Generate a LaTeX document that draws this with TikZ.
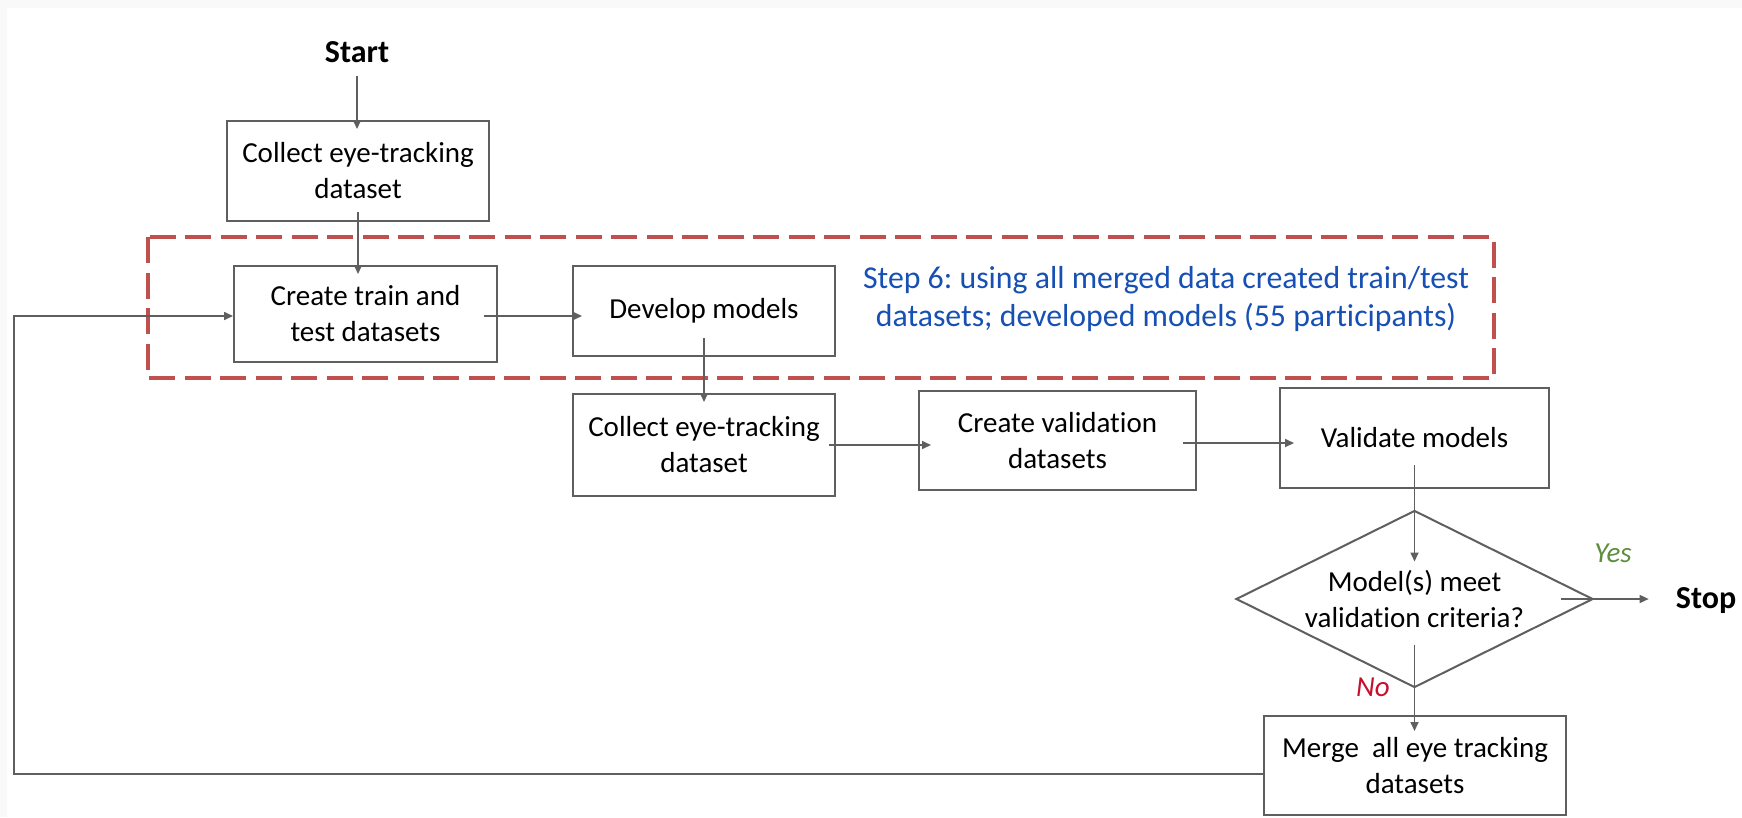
\documentclass[tikz,border=0pt]{standalone}
\usepackage{fontspec}
\setmainfont{Carlito}[Ligatures={NoCommon}]
\usetikzlibrary{shapes.geometric,arrows.meta}
\frenchspacing
\definecolor{edge}{HTML}{5F5F5F}
\definecolor{frame}{HTML}{C0504D}
\definecolor{note}{HTML}{1650B4}
\definecolor{yescol}{HTML}{5E8E3E}
\definecolor{nocol}{HTML}{C8102E}
\definecolor{paper}{HTML}{F9F9F9}
\tikzset{
  txt/.style={font=\fontsize{29}{36}\selectfont, align=center},
  proc/.style={txt, draw=edge, line width=2pt, inner sep=0pt},
  term/.style={font=\fontsize{32}{38}\selectfont\bfseries, inner sep=0pt},
  decision/.style={txt, diamond, aspect=2, draw=edge, line width=2pt, inner sep=0pt,
    minimum width=357, minimum height=177},
  arr/.style={draw=edge, line width=1.6pt, -{Triangle[length=9pt,width=8pt]}},
  stepframe/.style={draw=frame, line width=3.5pt, dash pattern=on 26pt off 9.5pt},
  answer/.style={font=\fontsize{29}{34}\selectfont\itshape, inner sep=0pt},
}
\begin{document}
\begin{tikzpicture}[x=1pt, y=-1pt]
  % page background with a light strip along the top and left edges
  \fill[paper] (0,0) rectangle (1742,817);
  \fill[white] (7,8) rectangle (1742,817);
  \useasboundingbox (0,0) rectangle (1742,817);

  % step 6 highlight frame
  \draw[stepframe] (148,237) rectangle (1494,378);

  % nodes
  \node[term] (start) at (357,52) {Start};
  \node[proc, minimum width=262, minimum height=100] (collectA) at (358,171)
    {Collect eye-tracking\\dataset};
  \node[proc, minimum width=263, minimum height=96] (train) at (365.5,314)
    {Create train and\\test datasets};
  \node[proc, minimum width=262, minimum height=90] (develop) at (704,311)
    {Develop models};
  \node[align=center, font=\fontsize{31.8}{38}\selectfont, text=note, inner sep=0pt] (stepnote) at (1166,299)
    {Step 6: using all merged data created train/test\\datasets; developed models (55 participants)};
  \node[proc, minimum width=262, minimum height=102] (collectB) at (704,445)
    {Collect eye-tracking\\dataset};
  \node[proc, minimum width=277, minimum height=99] (createval) at (1057.5,440.5)
    {Create validation\\datasets};
  \node[proc, minimum width=269, minimum height=100] (validate) at (1414.5,438)
    {Validate models};
  \node[decision] (decide) at (1414.5,599)
    {Model(s) meet\\validation criteria?};
  \node[proc, minimum width=302, minimum height=99] (merge) at (1415,765.5)
    {Merge~ all eye tracking\\datasets};
  \node[term] (stop) at (1706,601) {Stop};
  \node[answer, text=yescol] (yes) at (1613,553) {Yes};
  \node[answer, text=nocol] (no) at (1373,687) {No};

  % connectors
  \draw[arr, shorten <=13pt, shorten >=-9pt] (start.south) -- (start.south |- collectA.north);
  \draw[arr, shorten <=-10pt, shorten >=-9pt] (collectA.south) -- (collectA.south |- train.north);
  \draw[arr, shorten <=-14pt, shorten >=-10pt] ([yshift=-2pt]train.east) -- ([yshift=-2pt]train.east -| develop.west);
  \draw[arr, shorten <=-19pt, shorten >=-9pt] (develop.south) -- (develop.south |- collectB.north);
  \draw[arr, shorten <=-7pt, shorten >=-13pt] (collectB.east) -- (collectB.east -| createval.west);
  \draw[arr, shorten <=-14pt, shorten >=-15pt] ([yshift=-2.5pt]createval.east) -- ([yshift=-2.5pt]createval.east -| validate.west);
  \draw[arr, shorten <=-24pt, shorten >=-52pt] (validate.south) -- (validate.south |- decide.north);
  \draw[arr, shorten <=-33pt, shorten >=27pt] (decide.east) -- (decide.east -| stop.west);
  \draw[arr, shorten <=-44pt, shorten >=-16pt] (decide.south) -- (decide.south |- merge.north);

  % feedback loop back to the train/test step
  \coordinate (loopLow) at (14,774);
  \coordinate (loopHigh) at (14,316);
  \draw[arr] (merge.west |- loopLow) -- (loopLow) -- (loopHigh) -- (train.west |- loopHigh);
\end{tikzpicture}
\end{document}
